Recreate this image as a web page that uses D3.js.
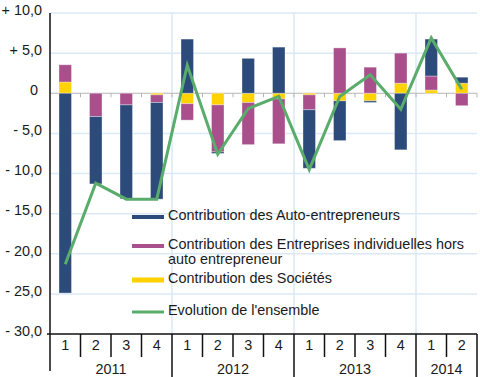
<!DOCTYPE html>
<html>
<head>
<meta charset="utf-8">
<script src="https://cdn.jsdelivr.net/npm/d3@7"></script>
<style>
  body { margin: 0; background: #fff; }
  text { font-family: "Liberation Sans", Arial, Helvetica, sans-serif; fill: #1a1a1a; }
</style>
</head>
<body>
<script>
let w = 480;
let h = 377;

// data
let quarters = ["1", "2", "3", "4", "1", "2", "3", "4", "1", "2", "3", "4", "1", "2"];
let years = ["2011", "2012", "2013", "2014"];
let yearCounts = [4, 4, 4, 2];
let auto = [-24.9, -8.4, -11.7, -12.05, 6.75, -0.2, 4.35, 5.75, -7.3, -4.95, -0.2, -7.05, 4.6, 0.75];
let indiv = [2.15, -2.9, -1.45, -0.95, -2.05, -5.85, -5.25, -5.6, -1.85, 5.65, 3.25, 3.75, 1.75, -1.55];
let societes = [1.4, 0, 0, -0.2, -1.3, -1.45, -1.15, -0.7, -0.2, -0.95, -0.95, 1.25, 0.4, 1.25];
let ensemble = [-21.3, -11.2, -13.2, -13.2, 3.5, -7.6, -1.9, -0.4, -9.5, -0.4, 2.3, -2.0, 6.9, 0.5];
let yTicks = [10, 5, 0, -5, -10, -15, -20, -25, -30];
let legendLabels = [
  ["Contribution des Auto-entrepreneurs"],
  ["Contribution des Entreprises individuelles hors", "auto entrepreneur"],
  ["Contribution des Sociétés"],
  ["Evolution de l'ensemble"]
];

let colors = { auto: "#2c4a7a", indiv: "#a94f8b", soc: "#ffd200", line: "#5aac6b" };

let padL = 50, padR = 477, padT = 13, padB = 334;
let fs = 14.4;

let rows = quarters.map((q, i) => {
  return { i: i, soc: societes[i], indiv: indiv[i], auto: auto[i] };
});

let xScale = d3.scaleBand()
  .domain(d3.range(quarters.length))
  .range([padL, padR])
  .padding(0);

let yScale = d3.scaleLinear()
  .domain([-30, 10])
  .range([padB, padT]);

let stack = d3.stack()
  .keys(["soc", "indiv", "auto"])
  .offset(d3.stackOffsetDiverging);
let series = stack(rows);

let svg = d3.select("body")
  .append("svg")
  .attr("width", w)
  .attr("height", h);

let xAt = (i) => i < quarters.length ? xScale(i) : padR;

// grid lines
svg.selectAll("line.hgrid")
  .data(yTicks.filter((d) => d !== 0 && d !== -30))
  .enter()
  .append("line")
  .attr("class", "hgrid")
  .attr("x1", padL)
  .attr("x2", padR)
  .attr("y1", (d) => yScale(d))
  .attr("y2", (d) => yScale(d))
  .attr("stroke", "#dbe8f6")
  .attr("stroke-width", 1.5);

let yearStarts = [];
let acc = 0;
yearCounts.forEach((n) => { yearStarts.push(acc); acc += n; });
let yearEnds = yearStarts.slice(1).concat([quarters.length]);

svg.selectAll("line.vgrid")
  .data(yearStarts.slice(1))
  .enter()
  .append("line")
  .attr("class", "vgrid")
  .attr("x1", (d) => xScale(d))
  .attr("x2", (d) => xScale(d))
  .attr("y1", padT)
  .attr("y2", padB)
  .attr("stroke", "#dbe8f6")
  .attr("stroke-width", 1.5);

// zero line with small ticks
svg.append("line")
  .attr("x1", padL)
  .attr("x2", padR)
  .attr("y1", yScale(0))
  .attr("y2", yScale(0))
  .attr("stroke", "#b5b5b5")
  .attr("stroke-width", 1);

svg.selectAll("line.ztick")
  .data(d3.range(1, quarters.length + 1))
  .enter()
  .append("line")
  .attr("class", "ztick")
  .attr("x1", (d) => xAt(d))
  .attr("x2", (d) => xAt(d))
  .attr("y1", yScale(0))
  .attr("y2", yScale(0) + 4)
  .attr("stroke", "#b5b5b5")
  .attr("stroke-width", 1);

// bars
let barW = xScale.bandwidth() * 0.41;
svg.selectAll("g.series")
  .data(series)
  .enter()
  .append("g")
  .attr("class", "series")
  .attr("fill", (d) => colors[d.key])
  .selectAll("rect")
  .data((d) => d)
  .enter()
  .append("rect")
  .attr("x", (d) => xScale(d.data.i) + (xScale.bandwidth() - barW) / 2)
  .attr("y", (d) => yScale(Math.max(d[0], d[1])))
  .attr("width", barW)
  .attr("height", (d) => Math.abs(yScale(d[0]) - yScale(d[1])))
  .attr("stroke", "#ffffff")
  .attr("stroke-opacity", 0.35)
  .attr("stroke-width", 1);

// line
let line = d3.line()
  .x((d, i) => xScale(i) + xScale.bandwidth() / 2)
  .y((d) => yScale(d));

svg.append("path")
  .datum(ensemble)
  .attr("d", line)
  .attr("fill", "none")
  .attr("stroke", colors.line)
  .attr("stroke-width", 3)
  .attr("stroke-linejoin", "miter");

// y axis
svg.append("line")
  .attr("x1", padL)
  .attr("x2", padL)
  .attr("y1", padT)
  .attr("y2", 371)
  .attr("stroke", "#111")
  .attr("stroke-width", 1.5);

let fmt = (v) => {
  if (v === 0) return "0";
  let s = Math.abs(v).toFixed(1).replace(".", ",");
  return (v > 0 ? "+ " : "- ") + s;
};

svg.selectAll("text.ylab")
  .data(yTicks)
  .enter()
  .append("text")
  .attr("class", "ylab")
  .attr("x", (d) => d === 0 ? 38 : 42)
  .attr("y", (d) => yScale(d) - 2)
  .attr("text-anchor", "end")
  .attr("dominant-baseline", "middle")
  .attr("font-size", fs)
  .text(fmt);

// x axis
svg.append("line")
  .attr("x1", 47)
  .attr("x2", padR)
  .attr("y1", padB)
  .attr("y2", padB)
  .attr("stroke", "#111")
  .attr("stroke-width", 1.5);

svg.selectAll("line.qtick")
  .data(d3.range(1, quarters.length + 1))
  .enter()
  .append("line")
  .attr("class", "qtick")
  .attr("x1", (d) => xAt(d))
  .attr("x2", (d) => xAt(d))
  .attr("y1", padB)
  .attr("y2", (d) => yearEnds.includes(d) ? 377 : 357)
  .attr("stroke", "#111")
  .attr("stroke-width", 1.5);

svg.selectAll("text.qlab")
  .data(quarters)
  .enter()
  .append("text")
  .attr("class", "qlab")
  .attr("x", (d, i) => xScale(i) + xScale.bandwidth() / 2)
  .attr("y", 346)
  .attr("text-anchor", "middle")
  .attr("dominant-baseline", "middle")
  .attr("font-size", fs)
  .text((d) => d);

svg.selectAll("text.yearlab")
  .data(years)
  .enter()
  .append("text")
  .attr("class", "yearlab")
  .attr("x", (d, i) => (xAt(yearStarts[i]) + xAt(yearEnds[i])) / 2)
  .attr("y", 370)
  .attr("text-anchor", "middle")
  .attr("dominant-baseline", "middle")
  .attr("font-size", fs)
  .text((d) => d);

// legend
let legendItems = [
  { color: colors.auto, width: 4, y: 217 },
  { color: colors.indiv, width: 4, y: 246 },
  { color: colors.soc, width: 5, y: 280 },
  { color: colors.line, width: 3, y: 312 }
];

let legend = svg.selectAll("g.legend")
  .data(legendItems)
  .enter()
  .append("g")
  .attr("class", "legend");

legend.append("line")
  .attr("x1", 132)
  .attr("x2", 164)
  .attr("y1", (d) => d.y)
  .attr("y2", (d) => d.y)
  .attr("stroke", (d) => d.color)
  .attr("stroke-width", (d) => d.width);

legend.each(function(d, i) {
  let t = d3.select(this).append("text")
    .attr("x", 168)
    .attr("y", d.y - 1)
    .attr("dominant-baseline", "middle")
    .attr("font-size", fs);
  legendLabels[i].forEach((s, j) => {
    t.append("tspan")
      .attr("x", 168)
      .attr("dy", j === 0 ? 0 : 14.5)
      .text(s);
  });
});
</script>
</body>
</html>
